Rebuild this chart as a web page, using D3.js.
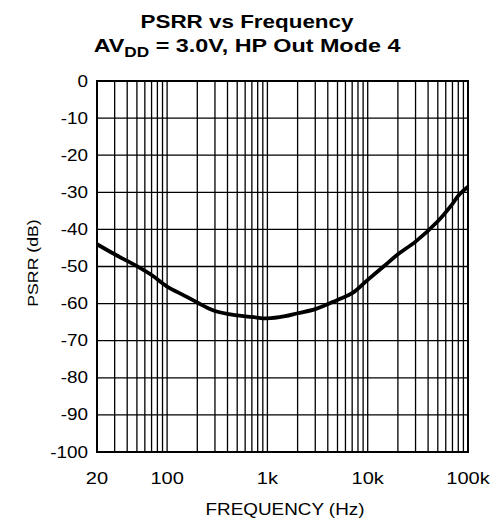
<!DOCTYPE html>
<html><head><meta charset="utf-8">
<script src="https://cdn.jsdelivr.net/npm/d3@7"></script>
<style>body{margin:0;background:#fff}svg{display:block}text{font-family:"Liberation Sans",Arial,Helvetica,sans-serif;fill:#000}</style>
</head><body>
<script>
const freqs = [20,30,40,50,70,100,150,200,300,500,700,1000,1500,2000,3000,5000,7000,10000,15000,20000,30000,50000,70000,80000,100000];
const psrr  = [-44.0,-46.7,-48.5,-49.9,-52.3,-55.4,-57.9,-59.7,-62.0,-63.2,-63.6,-64.0,-63.4,-62.6,-61.5,-59.0,-57.2,-53.6,-49.6,-46.7,-43.3,-37.8,-33.1,-30.9,-28.5];
const xTickVals = [20,100,1000,10000,100000];
const xTickLabels = ["20","100","1k","10k","100k"];
const yTickVals = [0,-10,-20,-30,-40,-50,-60,-70,-80,-90,-100];
const yTickLabels = ["0","-10","-20","-30","-40","-50","-60","-70","-80","-90","-100"];

const W=496,H=527, L=97, R=468, T=81, B=452;
const SX=1.18;
const svg=d3.select("body").append("svg").attr("width",W).attr("height",H);
const x=d3.scaleLog().domain([20,100000]).range([L,R]);
const y=d3.scaleLinear().domain([-100,0]).range([B,T]);

const grid=[];
for(let d=10; d<=10000; d*=10){ for(let m=1;m<=9;m++){ const f=m*d; if(f>=20 && f<=100000) grid.push(f);} }
grid.push(100000);
svg.append("g").selectAll("line").data(grid).join("line")
  .attr("x1",d=>x(d)).attr("x2",d=>x(d)).attr("y1",T).attr("y2",B)
  .attr("stroke","#000").attr("stroke-width",1.3);
svg.append("g").selectAll("line").data(yTickVals).join("line")
  .attr("x1",L).attr("x2",R).attr("y1",d=>y(d)).attr("y2",d=>y(d))
  .attr("stroke","#000").attr("stroke-width",1.3);
svg.append("rect").attr("x",L).attr("y",T).attr("width",R-L).attr("height",B-T)
  .attr("fill","none").attr("stroke","#000").attr("stroke-width",2);

const line=d3.line().x((d,i)=>x(freqs[i])).y(d=>y(d)).curve(d3.curveCatmullRom.alpha(0.5));
svg.append("path").attr("d",line(psrr)).attr("fill","none").attr("stroke","#000").attr("stroke-width",3.8).attr("stroke-linejoin","round");

function txt(g,s,tx,ty,size,anchor,weight,rot,sx){
  const t=g.append("text").attr("transform",`translate(${tx},${ty})`+(rot?` rotate(${rot})`:"")+` scale(${sx||SX},1)`)
   .attr("font-size",size).attr("text-anchor",anchor).attr("font-weight",weight||"normal").text(s);
  return t;
}
const gt=svg.append("g");
xTickVals.forEach((v,i)=>txt(gt,xTickLabels[i],x(v),484,17,"middle"));
yTickVals.forEach((v,i)=>txt(gt,yTickLabels[i],88,y(v)+5.5,16,"end"));
txt(gt,"FREQUENCY (Hz)",285,515,16,"middle");
txt(gt,"PSRR (dB)",38,263,15,"middle","normal",-90);

txt(gt,"PSRR vs Frequency",247,27.5,19,"middle","bold");
const t2=txt(gt,"",247,51.5,19,"middle","bold",0,1.23);
t2.append("tspan").text("AV");
t2.append("tspan").attr("font-size",14).attr("dy",5).text("DD");
t2.append("tspan").attr("dy",-5).text(" = 3.0V, HP Out Mode 4");
</script>
</body></html>
